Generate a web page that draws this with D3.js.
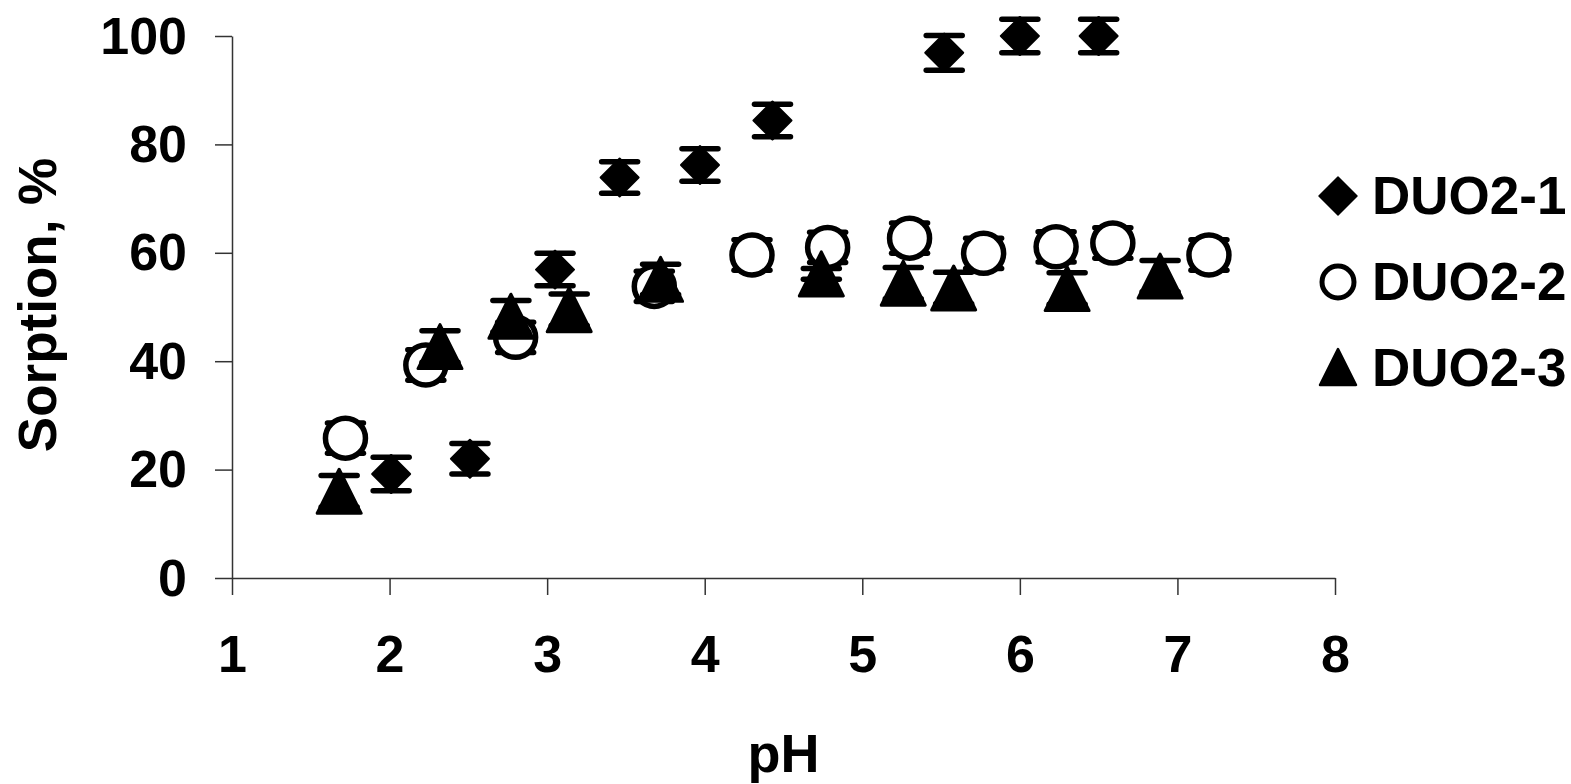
<!DOCTYPE html>
<html>
<head>
<meta charset="utf-8">
<script src="https://cdn.jsdelivr.net/npm/d3@7"></script>
<style>
  html, body { margin: 0; padding: 0; background: #fff; }
  svg { display: block; font-family: "Liberation Sans", Arial, sans-serif; font-weight: bold; }
</style>
</head>
<body>
<div id="chart"></div>
<script>
// series DUO2-1 (diamonds)
const phD1   = [2.01, 2.51, 3.05, 3.46, 3.97, 4.43, 5.52, 6.00, 6.50];
const sorpD1 = [19.2, 22.0, 56.9, 73.9, 76.2, 84.4, 96.9, 100, 100];
const errD1  = [3.1, 2.8, 3.0, 2.9, 3.0, 3.0, 3.2, 3.1, 3.1];

// series DUO2-2 (open circles)
const phD2   = [1.72, 2.23, 2.80, 3.68, 4.30, 4.78, 5.30, 5.77, 6.23, 6.59, 7.20];
const sorpD2 = [25.8, 39.3, 44.4, 53.8, 59.6, 61.0, 62.7, 59.9, 61.1, 61.8, 59.6];
const errD2  = [2.8, 2.8, 2.8, 2.8, 2.8, 2.8, 2.8, 2.8, 2.8, 2.8, 2.8];

// series DUO2-3 (triangles)
const phD3   = [1.68, 2.32, 2.77, 3.14, 3.72, 4.74, 5.26, 5.58, 6.30, 6.89];
const sorpD3 = [16.0, 42.7, 48.3, 49.5, 55.1, 56.1, 54.4, 53.5, 53.4, 55.7];
const errD3  = [2.9, 2.9, 2.9, 2.9, 2.8, 1.0, 2.9, 2.9, 2.9, 2.9];

const seriesNames = ["DUO2-1", "DUO2-2", "DUO2-3"];
const xTicks = [1, 2, 3, 4, 5, 6, 7, 8];
const yTicks = [0, 20, 40, 60, 80, 100];

const width = 1571, height = 784;
const margin = {top: 36, right: 236, bottom: 206, left: 232};

const svg = d3.select("#chart").append("svg")
    .attr("width", width)
    .attr("height", height);

const xScale = d3.scaleLinear().domain([1, 8]).range([margin.left, width - margin.right]);
const yScale = d3.scaleLinear().domain([0, 100]).range([height - margin.bottom, margin.top]);

// axes
const axisColor = "#333";
const xAxisG = svg.append("g")
    .attr("transform", "translate(0," + yScale(0) + ")")
    .call(d3.axisBottom(xScale).tickValues(xTicks).tickSize(17).tickSizeOuter(0).tickPadding(40).tickFormat(d3.format("d")));
const yAxisG = svg.append("g")
    .attr("transform", "translate(" + xScale(1) + ",0)")
    .call(d3.axisLeft(yScale).tickValues(yTicks).tickSize(17).tickSizeOuter(0).tickPadding(28).tickFormat(d3.format("d")));

[xAxisG, yAxisG].forEach(g => {
    g.select(".domain").attr("stroke", axisColor).attr("stroke-width", 1.5);
    g.selectAll(".tick line").attr("stroke", axisColor).attr("stroke-width", 1.5);
    g.selectAll(".tick text")
        .attr("fill", "#000")
        .style("font-size", "52px")
        .style("font-weight", "bold")
        .style("font-family", "'Liberation Sans', Arial, sans-serif");
});
yAxisG.selectAll(".tick text").attr("dy", "0.33em");
xAxisG.selectAll(".tick text").attr("dy", "0.72em");

// axis titles
svg.append("text")
    .attr("x", (xScale(1) + xScale(8)) / 2)
    .attr("y", 772)
    .attr("text-anchor", "middle")
    .style("font-size", "54px")
    .text("pH");

svg.append("text")
    .attr("transform", "translate(56," + ((yScale(0) + yScale(100)) / 2 - 2) + ") rotate(-90)")
    .attr("text-anchor", "middle")
    .style("font-size", "53px")
    .text("Sorption, %");

// marker shapes
const diamondPath = (w, h) => `M0,${-h}L${w},0L0,${h}L${-w},0Z`;
const trianglePath = (w, h) => `M0,${-h}L${w},${h}L${-w},${h}Z`;

function drawErrorBars(g, ph, vals, errs) {
    const capHalf = 18;
    const data = ph.map((p, i) => ({x: p, y: vals[i], e: errs[i]}));
    const eb = g.selectAll(".err").data(data).join("g").attr("class", "err")
        .attr("stroke", "#000").attr("stroke-width", 5.5).attr("stroke-linecap", "round");
    eb.append("line")
        .attr("x1", d => xScale(d.x)).attr("x2", d => xScale(d.x))
        .attr("y1", d => yScale(d.y + d.e)).attr("y2", d => yScale(d.y - d.e));
    eb.append("line")
        .attr("x1", d => xScale(d.x) - capHalf).attr("x2", d => xScale(d.x) + capHalf)
        .attr("y1", d => yScale(d.y + d.e)).attr("y2", d => yScale(d.y + d.e));
    eb.append("line")
        .attr("x1", d => xScale(d.x) - capHalf).attr("x2", d => xScale(d.x) + capHalf)
        .attr("y1", d => yScale(d.y - d.e)).attr("y2", d => yScale(d.y - d.e));
    return data;
}

// DUO2-1
const g1 = svg.append("g").attr("class", "series1");
const d1 = drawErrorBars(g1, phD1, sorpD1, errD1);
g1.selectAll(".pt").data(d1).join("path").attr("class", "pt")
    .attr("d", diamondPath(19, 19))
    .attr("transform", d => "translate(" + xScale(d.x) + "," + yScale(d.y) + ")")
    .attr("fill", "#000").attr("stroke", "#000").attr("stroke-width", 2).attr("stroke-linejoin", "round");

// DUO2-2
const g2 = svg.append("g").attr("class", "series2");
const d2 = drawErrorBars(g2, phD2, sorpD2, errD2);
g2.selectAll(".pt").data(d2).join("circle").attr("class", "pt")
    .attr("cx", d => xScale(d.x)).attr("cy", d => yScale(d.y))
    .attr("r", 20)
    .attr("fill", "#fff").attr("stroke", "#000").attr("stroke-width", 5.5);

// DUO2-3
const g3 = svg.append("g").attr("class", "series3");
const d3pts = drawErrorBars(g3, phD3, sorpD3, errD3);
g3.selectAll(".pt").data(d3pts).join("path").attr("class", "pt")
    .attr("d", trianglePath(22, 22))
    .attr("transform", d => "translate(" + xScale(d.x) + "," + yScale(d.y) + ")")
    .attr("fill", "#000").attr("stroke", "#000").attr("stroke-width", 3).attr("stroke-linejoin", "round");

// legend
const legend = svg.append("g").attr("transform", "translate(1338,196)");
const rowStep = 86;
seriesNames.forEach((name, i) => {
    const row = legend.append("g").attr("transform", "translate(0," + (i * rowStep) + ")");
    if (i === 0) {
        row.append("path").attr("d", diamondPath(19, 19))
            .attr("fill", "#000").attr("stroke", "#000").attr("stroke-width", 1.5).attr("stroke-linejoin", "round");
    } else if (i === 1) {
        row.append("circle").attr("r", 16)
            .attr("fill", "#fff").attr("stroke", "#000").attr("stroke-width", 5);
    } else {
        row.append("path").attr("d", trianglePath(18, 18))
            .attr("transform", "translate(0,-1)")
            .attr("fill", "#000").attr("stroke", "#000").attr("stroke-width", 2.5).attr("stroke-linejoin", "round");
    }
    row.append("text")
        .attr("x", 34)
        .attr("y", 18)
        .style("font-size", "53px")
        .text(name);
});
</script>
</body>
</html>
